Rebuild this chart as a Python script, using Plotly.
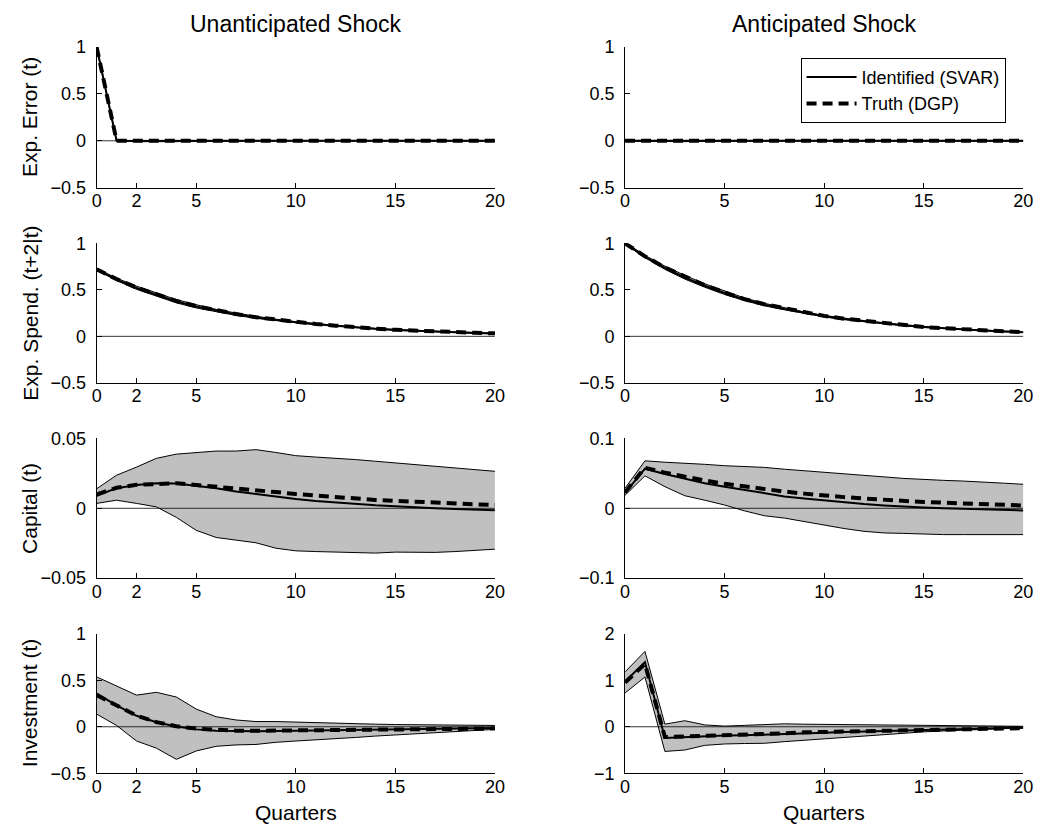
import plotly.graph_objects as go

quarters = list(range(21))

# Row 1: Exp. Error (t)
ee_u_truth = [1.0] + [0.0] * 20
ee_u_ident = [1.0, 0.0, -0.002, -0.003, -0.002, -0.001, 0.0, 0.0, 0.0, 0.0, 0.0, 0.0, 0.0, 0.0, 0.0, 0.0, 0.0, 0.0, 0.0, 0.0, 0.0]
ee_u_upper = [1.01, 0.004, 0.004, 0.004, 0.003, 0.002, 0.002, 0.001, 0.001, 0.001, 0.001, 0.001, 0.001, 0.001, 0.001, 0.001, 0.001, 0.001, 0.001, 0.001, 0.001]
ee_u_lower = [0.99, -0.004, -0.009, -0.012, -0.009, -0.004, -0.002, -0.001, -0.001, -0.001, -0.001, -0.001, -0.001, -0.001, -0.001, -0.001, -0.001, -0.001, -0.001, -0.001, -0.001]

ee_a_truth = [0.0] * 21
ee_a_ident = [0.0, 0.002, 0.002, 0.001, 0.001, 0.0, 0.0, 0.0, 0.0, 0.0, 0.0, 0.0, 0.0, 0.0, 0.0, 0.0, 0.0, 0.0, 0.0, 0.0, 0.0]
ee_a_upper = [0.004, 0.005, 0.005, 0.004, 0.003, 0.002, 0.002, 0.001, 0.001, 0.001, 0.001, 0.001, 0.001, 0.001, 0.001, 0.001, 0.001, 0.001, 0.001, 0.001, 0.001]
ee_a_lower = [-0.004, -0.008, -0.01, -0.009, -0.006, -0.003, -0.002, -0.001, -0.001, -0.001, -0.001, -0.001, -0.001, -0.001, -0.001, -0.001, -0.001, -0.001, -0.001, -0.001, -0.001]

# Row 2: Exp. Spend. (t+2|t)
es_u_truth = [0.72, 0.615, 0.525, 0.45, 0.38, 0.325, 0.28, 0.24, 0.205, 0.178, 0.155, 0.133, 0.115, 0.096, 0.082, 0.07, 0.06, 0.052, 0.045, 0.038, 0.032]
es_u_ident = [0.72, 0.61, 0.52, 0.445, 0.375, 0.32, 0.275, 0.236, 0.202, 0.175, 0.152, 0.131, 0.113, 0.095, 0.081, 0.069, 0.059, 0.05, 0.043, 0.036, 0.03]
es_u_upper = [0.73, 0.625, 0.54, 0.465, 0.395, 0.34, 0.29, 0.25, 0.213, 0.183, 0.158, 0.136, 0.117, 0.099, 0.085, 0.073, 0.063, 0.055, 0.048, 0.041, 0.035]
es_u_lower = [0.71, 0.6, 0.505, 0.43, 0.36, 0.305, 0.262, 0.225, 0.194, 0.168, 0.146, 0.127, 0.11, 0.092, 0.078, 0.066, 0.056, 0.047, 0.04, 0.033, 0.027]

es_a_truth = [1.0, 0.86, 0.74, 0.64, 0.55, 0.47, 0.4, 0.345, 0.3, 0.255, 0.22, 0.19, 0.165, 0.14, 0.12, 0.1, 0.087, 0.074, 0.063, 0.053, 0.045]
es_a_ident = [1.0, 0.855, 0.735, 0.632, 0.543, 0.465, 0.396, 0.34, 0.295, 0.252, 0.217, 0.187, 0.162, 0.138, 0.118, 0.099, 0.085, 0.073, 0.062, 0.052, 0.044]
es_a_upper = [1.01, 0.87, 0.755, 0.655, 0.565, 0.485, 0.412, 0.355, 0.307, 0.262, 0.225, 0.194, 0.168, 0.143, 0.123, 0.103, 0.089, 0.077, 0.066, 0.056, 0.048]
es_a_lower = [0.99, 0.845, 0.72, 0.615, 0.528, 0.45, 0.383, 0.328, 0.285, 0.243, 0.209, 0.18, 0.156, 0.133, 0.113, 0.095, 0.082, 0.07, 0.059, 0.05, 0.042]

# Row 3: Capital (t)
k_u_truth = [0.01, 0.0147, 0.0168, 0.0176, 0.0179, 0.0167, 0.0156, 0.0144, 0.013, 0.0116, 0.0102, 0.009, 0.0079, 0.007, 0.006, 0.0053, 0.0047, 0.004, 0.0033, 0.0028, 0.0023]
k_u_ident = [0.009, 0.0144, 0.0167, 0.0179, 0.0177, 0.016, 0.0144, 0.0121, 0.0102, 0.0084, 0.0067, 0.0053, 0.0042, 0.003, 0.0021, 0.0014, 0.0005, 0.0, -0.0005, -0.0009, -0.0014]
k_u_upper = [0.014, 0.0237, 0.0295, 0.0358, 0.0388, 0.040, 0.041, 0.041, 0.042, 0.040, 0.0377, 0.0367, 0.036, 0.0349, 0.0337, 0.0326, 0.0314, 0.0302, 0.0288, 0.0277, 0.0265]
k_u_lower = [0.0035, 0.0058, 0.0035, 0.001, -0.0065, -0.0158, -0.0209, -0.0228, -0.0247, -0.0286, -0.0305, -0.031, -0.0314, -0.0321, -0.0321, -0.0314, -0.0316, -0.0316, -0.031, -0.0302, -0.0293]

k_a_truth = [0.023, 0.058, 0.051, 0.045, 0.040, 0.035, 0.031, 0.027, 0.024, 0.021, 0.018, 0.016, 0.014, 0.012, 0.010, 0.009, 0.008, 0.007, 0.006, 0.005, 0.004]
k_a_ident = [0.022, 0.0567, 0.049, 0.042, 0.036, 0.031, 0.026, 0.021, 0.017, 0.014, 0.011, 0.008, 0.006, 0.004, 0.002, 0.001, 0.0, -0.001, -0.0015, -0.002, -0.003]
k_a_upper = [0.0288, 0.068, 0.066, 0.0647, 0.063, 0.061, 0.060, 0.0586, 0.056, 0.054, 0.052, 0.050, 0.047, 0.045, 0.0428, 0.041, 0.040, 0.039, 0.037, 0.036, 0.0344]
k_a_lower = [0.0186, 0.0465, 0.031, 0.018, 0.0116, 0.0047, -0.0037, -0.0107, -0.014, -0.019, -0.0247, -0.029, -0.033, -0.0353, -0.036, -0.037, -0.0377, -0.0377, -0.0377, -0.0377, -0.0377]

# Row 4: Investment (t)
i_u_truth = [0.34, 0.225, 0.12, 0.05, 0.005, -0.02, -0.035, -0.042, -0.043, -0.042, -0.04, -0.038, -0.036, -0.034, -0.031, -0.029, -0.027, -0.025, -0.023, -0.021, -0.019]
i_u_ident = [0.355, 0.23, 0.118, 0.049, 0.003, -0.028, -0.042, -0.049, -0.049, -0.045, -0.042, -0.039, -0.036, -0.033, -0.03, -0.027, -0.024, -0.021, -0.019, -0.016, -0.014]
i_u_upper = [0.536, 0.44, 0.34, 0.37, 0.32, 0.19, 0.108, 0.073, 0.056, 0.056, 0.049, 0.045, 0.042, 0.035, 0.028, 0.024, 0.022, 0.02, 0.018, 0.016, 0.014]
i_u_lower = [0.136, 0.014, -0.153, -0.23, -0.35, -0.26, -0.21, -0.195, -0.19, -0.167, -0.153, -0.143, -0.13, -0.115, -0.10, -0.087, -0.073, -0.059, -0.049, -0.038, -0.028]

i_a_truth = [0.95, 1.35, -0.22, -0.21, -0.2, -0.18, -0.17, -0.15, -0.14, -0.12, -0.11, -0.1, -0.09, -0.08, -0.07, -0.06, -0.05, -0.045, -0.04, -0.035, -0.03]
i_a_ident = [0.97, 1.39, -0.24, -0.22, -0.2, -0.19, -0.18, -0.17, -0.16, -0.14, -0.13, -0.11, -0.1, -0.085, -0.07, -0.06, -0.05, -0.04, -0.03, -0.025, -0.02]
i_a_upper = [1.18, 1.62, 0.056, 0.13, 0.04, 0.014, 0.03, 0.04, 0.063, 0.055, 0.05, 0.045, 0.04, 0.035, 0.03, 0.025, 0.02, 0.018, 0.015, 0.012, 0.01]
i_a_lower = [0.726, 1.07, -0.53, -0.5, -0.40, -0.37, -0.36, -0.355, -0.32, -0.29, -0.25, -0.22, -0.19, -0.16, -0.13, -0.11, -0.09, -0.07, -0.05, -0.04, -0.03]

col_titles = ["Unanticipated Shock", "Anticipated Shock"]
row_labels = ["Exp. Error (t)", "Exp. Spend. (t+2|t)", "Capital (t)", "Investment (t)"]
x_ticks = [[0, 2, 5, 10, 15, 20], [0, 5, 10, 15, 20]]
y_ticks = [
    [[-0.5, 0, 0.5, 1], [-0.5, 0, 0.5, 1]],
    [[-0.5, 0, 0.5, 1], [-0.5, 0, 0.5, 1]],
    [[-0.05, 0, 0.05], [-0.1, 0, 0.1]],
    [[-0.5, 0, 0.5, 1], [-1, 0, 1, 2]],
]
legend_names = ["Identified (SVAR)", "Truth (DGP)"]

panels = [
    [(ee_u_lower, ee_u_upper, ee_u_ident, ee_u_truth), (ee_a_lower, ee_a_upper, ee_a_ident, ee_a_truth)],
    [(es_u_lower, es_u_upper, es_u_ident, es_u_truth), (es_a_lower, es_a_upper, es_a_ident, es_a_truth)],
    [(k_u_lower, k_u_upper, k_u_ident, k_u_truth), (k_a_lower, k_a_upper, k_a_ident, k_a_truth)],
    [(i_u_lower, i_u_upper, i_u_ident, i_u_truth), (i_a_lower, i_a_upper, i_a_ident, i_a_truth)],
]

W, H = 1054, 836


def fx(px):
    return px / W


def fy(py):
    return 1 - py / H


col_px = [(93, 497), (629, 1033)]
row_px = [(38, 182), (239, 382), (439, 582), (639, 782)]

FONT = "Liberation Sans, Arial, Helvetica, sans-serif"
fig = go.Figure()
layout = dict(
    width=W, height=H, margin=dict(l=0, r=0, t=0, b=0),
    paper_bgcolor="white", plot_bgcolor="white",
    font=dict(family=FONT, size=18, color="black"),
    showlegend=True,
)
annotations = []
legend_done = False
for r in range(4):
    for c in range(2):
        idx = 2 * r + c + 1
        xa = "x" if idx == 1 else f"x{idx}"
        ya = "y" if idx == 1 else f"y{idx}"
        lower, upper, ident, truth = panels[r][c]
        fig.add_trace(go.Scatter(x=quarters, y=lower, mode="lines", line=dict(color="black", width=1),
                                 showlegend=False, xaxis=xa, yaxis=ya, hoverinfo="skip"))
        fig.add_trace(go.Scatter(x=quarters, y=upper, mode="lines", line=dict(color="black", width=1),
                                 fill="tonexty", fillcolor="#c0c0c0",
                                 showlegend=False, xaxis=xa, yaxis=ya, hoverinfo="skip"))
        fig.add_trace(go.Scatter(x=[quarters[0], quarters[-1]], y=[0, 0], mode="lines",
                                 line=dict(color="black", width=0.8),
                                 showlegend=False, xaxis=xa, yaxis=ya, hoverinfo="skip"))
        show = not legend_done
        fig.add_trace(go.Scatter(x=quarters, y=ident, mode="lines", name=legend_names[0],
                                 line=dict(color="black", width=2), showlegend=show,
                                 xaxis=xa, yaxis=ya))
        fig.add_trace(go.Scatter(x=quarters, y=truth, mode="lines", name=legend_names[1],
                                 line=dict(color="black", width=4, dash="10px,6px"), showlegend=show,
                                 xaxis=xa, yaxis=ya))
        legend_done = True
        x0, x1 = col_px[c]
        y0, y1 = row_px[r]
        yt = y_ticks[r][c]
        axcommon = dict(showgrid=False, zeroline=False, showline=True, linecolor="black", linewidth=1,
                        ticks="inside", ticklen=5, tickwidth=1, tickcolor="black",
                        tickfont=dict(family=FONT, size=18, color="black"))
        layout["xaxis" if idx == 1 else f"xaxis{idx}"] = dict(
            domain=[fx(x0), fx(x1)], anchor=ya, range=[0, 20], tickvals=x_ticks[c],
            ticktext=[str(v) for v in x_ticks[c]], ticklabelstandoff=-3, **axcommon)
        layout["yaxis" if idx == 1 else f"yaxis{idx}"] = dict(
            domain=[fy(y1), fy(y0)], anchor=xa, range=[yt[0], yt[-1]], tickvals=yt,
            ticklabelstandoff=6, **axcommon)
        if c == 0:
            annotations.append(dict(x=fx(25), y=fy((y0 + y1) / 2), xref="paper", yref="paper",
                                    text=row_labels[r], textangle=-90, showarrow=False,
                                    font=dict(family=FONT, size=21, color="black"),
                                    xanchor="center", yanchor="middle"))
for c in range(2):
    x0, x1 = col_px[c]
    annotations.append(dict(x=fx((x0 + x1) / 2), y=fy(14), xref="paper", yref="paper",
                            text=col_titles[c], showarrow=False,
                            font=dict(family=FONT, size=23, color="black"),
                            xanchor="center", yanchor="middle"))
    annotations.append(dict(x=fx((x0 + x1) / 2), y=fy(822), xref="paper", yref="paper",
                            text="Quarters", showarrow=False,
                            font=dict(family=FONT, size=21, color="black"),
                            xanchor="center", yanchor="middle"))
layout["annotations"] = annotations
layout["legend"] = dict(x=fx(1015), y=fy(49), xanchor="right", yanchor="top",
                        bgcolor="white", bordercolor="black", borderwidth=1, traceorder="normal",
                        itemwidth=50,
                        font=dict(family=FONT, size=18, color="black"), tracegroupgap=0)
fig.update_layout(**layout)
fig.write_html("out.html")
